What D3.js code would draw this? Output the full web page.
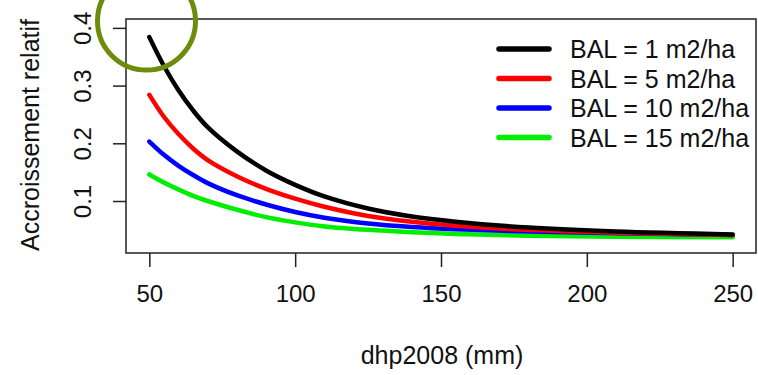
<!DOCTYPE html>
<meta charset="utf-8">
<style>
	body {
		margin: 0;
		background: #fff;
		font-family: "Liberation Sans", Arial, Helvetica, sans-serif;
	}
	svg text {
		fill: #111;
	}
</style>
<body>
<svg id="chart" width="758" height="375"></svg>
<script src="https://cdn.jsdelivr.net/npm/d3@7"></script>
<script>
	// dhp2008 values (mm) where curves were read
	var dhp = [50, 55, 60, 65, 70, 80, 90, 100, 110, 125, 140, 155, 180, 210, 250];
	// relative growth for each BAL level
	var bal1 = [0.384, 0.334, 0.292, 0.257, 0.228, 0.186, 0.153, 0.128, 0.108, 0.087, 0.073, 0.064, 0.054, 0.047, 0.042];
	var bal5 = [0.284, 0.246, 0.216, 0.191, 0.171, 0.143, 0.121, 0.104, 0.090, 0.074, 0.064, 0.057, 0.050, 0.045, 0.041];
	var bal10 = [0.203, 0.180, 0.161, 0.145, 0.131, 0.110, 0.094, 0.081, 0.071, 0.061, 0.055, 0.051, 0.047, 0.044, 0.041];
	var bal15 = [0.146, 0.132, 0.120, 0.109, 0.100, 0.085, 0.072, 0.063, 0.056, 0.050, 0.046, 0.043, 0.040, 0.038, 0.037];
	var seriesNames = ["BAL = 1 m2/ha", "BAL = 5 m2/ha", "BAL = 10 m2/ha", "BAL = 15 m2/ha"];
	var seriesColors = ["#000000", "#ff0000", "#0000ff", "#00ee00"];
	var xTicks = [50, 100, 150, 200, 250];
	var yTicks = [0.1, 0.2, 0.3, 0.4];

	var allSeries = [bal1, bal5, bal10, bal15];

	var box = {left: 126, right: 756, top: 19, bottom: 253};

	var x = d3.scaleLinear().domain([42, 258]).range([box.left, box.right]);
	var y = d3.scaleLinear().domain([0.0099, 0.4154]).range([box.bottom, box.top]);

	var svg = d3.select("#chart");

	// plot frame
	svg.append("rect")
		.attr("x", box.left)
		.attr("y", box.top)
		.attr("width", box.right - box.left)
		.attr("height", box.bottom - box.top)
		.attr("fill", "none")
		.attr("stroke", "#222")
		.attr("stroke-width", 1.5);

	// x axis (R style: detached from box)
	var xAxis = svg.append("g")
		.attr("transform", "translate(0," + box.bottom + ")")
		.call(d3.axisBottom(x).tickValues(xTicks).tickSize(14).tickPadding(18).tickFormat(d3.format("d")));
	xAxis.select(".domain").remove();
	xAxis.selectAll("line").attr("stroke", "#222").attr("stroke-width", 1.5);
	xAxis.selectAll("text")
		.attr("font-size", 24)
		.attr("font-family", "Liberation Sans, Arial, sans-serif")
		.attr("fill", "#111");

	// y axis, labels rotated like R's default
	var yAxis = svg.append("g")
		.attr("transform", "translate(" + box.left + ",0)")
		.call(d3.axisLeft(y).tickValues(yTicks).tickSize(13).tickFormat(d3.format(".1f")));
	yAxis.select(".domain").remove();
	yAxis.selectAll("line").attr("stroke", "#222").attr("stroke-width", 1.5);
	yAxis.selectAll("text")
		.attr("x", null)
		.attr("text-anchor", "middle")
		.attr("font-size", 24)
		.attr("font-family", "Liberation Sans, Arial, sans-serif")
		.attr("fill", "#111")
		.attr("transform", "translate(-44,0) rotate(-90)")
		.attr("dy", "0.36em");

	// axis titles
	svg.append("text")
		.attr("x", 442)
		.attr("y", 364)
		.attr("text-anchor", "middle")
		.attr("font-size", 25)
		.text("dhp2008 (mm)");

	svg.append("text")
		.attr("transform", "translate(39,135) rotate(-90)")
		.attr("text-anchor", "middle")
		.attr("font-size", 25)
		.text("Accroissement relatif");

	// curves
	var line = d3.line()
		.x(function(d, i) { return x(dhp[i]); })
		.y(function(d) { return y(d); })
		.curve(d3.curveCatmullRom.alpha(0.5));

	// draw from last to first so black is on top
	for (var s = allSeries.length - 1; s >= 0; s--) {
		svg.append("path")
			.datum(allSeries[s])
			.attr("fill", "none")
			.attr("stroke", seriesColors[s])
			.attr("stroke-width", 4.5)
			.attr("stroke-linecap", "round")
			.attr("d", line);
	}

	// legend
	var legend = svg.append("g");
	seriesNames.forEach(function(name, i) {
		var ly = 49 + i * 29.5;
		legend.append("line")
			.attr("x1", 499).attr("x2", 549)
			.attr("y1", ly).attr("y2", ly)
			.attr("stroke", seriesColors[i])
			.attr("stroke-width", 5.5)
			.attr("stroke-linecap", "round");
		legend.append("text")
			.attr("x", 570)
			.attr("y", ly)
			.attr("dy", "0.36em")
			.attr("font-size", 25)
			.text(name);
	});

	// highlight circle annotation
	svg.append("circle")
		.attr("cx", 146.5)
		.attr("cy", 21)
		.attr("r", 49)
		.attr("fill", "none")
		.attr("stroke", "#6e8c0c")
		.attr("stroke-width", 5);
</script>
</body>
